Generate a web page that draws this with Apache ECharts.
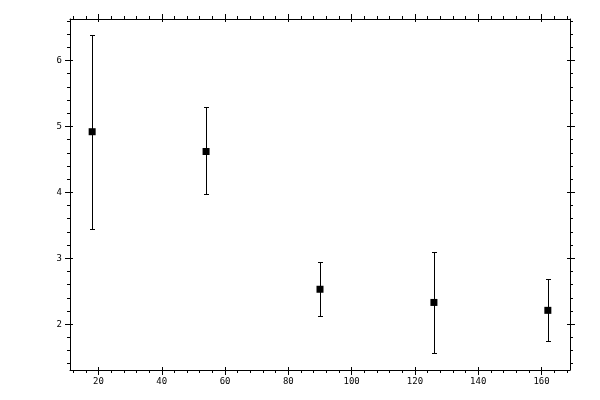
<!DOCTYPE html>
<html>
<head>
<meta charset="utf-8">
<script src="https://cdn.jsdelivr.net/npm/echarts@6/dist/echarts.min.js"></script>
<style>
  html, body { margin: 0; padding: 0; background: #fff; }
  #chart { width: 600px; height: 400px; }
</style>
</head>
<body>
<div id="chart"></div>
<script>
// data
var xValues = [18, 54, 90, 126, 162];
var yValues = [4.92, 4.62, 2.53, 2.33, 2.21];
var yLow = [3.45, 3.97, 2.12, 1.56, 1.75];
var yHigh = [6.39, 5.29, 2.94, 3.09, 2.68];

// tick values
var xTicks = [20, 40, 60, 80, 100, 120, 140, 160];
var xMinorTicks = [12, 16, 24, 28, 32, 36, 44, 48, 52, 56, 64, 68, 72, 76, 84, 88, 92, 96,
  104, 108, 112, 116, 124, 128, 132, 136, 144, 148, 152, 156, 164, 168];
var yTicks = [2, 3, 4, 5, 6];
var yMinorTicks = [1.4, 1.6, 1.8, 2.2, 2.4, 2.6, 2.8, 3.2, 3.4, 3.6, 3.8, 4.2, 4.4, 4.6, 4.8,
  5.2, 5.4, 5.6, 5.8, 6.2, 6.4, 6.6];

var xMin = 11, xMax = 169;
var yMin = 1.305, yMax = 6.63;
var font = 'DejaVu Sans Mono';

var points = xValues.map(function (x, i) { return [x, yValues[i]]; });
var bars = xValues.map(function (x, i) { return [x, yLow[i], yHigh[i]]; });

// kind: 'main' (line + outward majors + labels), 'minor' (outward short), 'in' (inward majors)
function axis(pos, kind, min, max, ticks, minor, labels, margin) {
  var vals = kind === 'minor' ? minor : ticks;
  return {
    type: 'value', position: pos, min: min, max: max,
    axisLine: { show: kind === 'main', onZero: false, lineStyle: { color: '#000', width: 1 } },
    axisTick: {
      show: true, inside: kind === 'in', customValues: vals,
      length: kind === 'main' ? 5 : 3, lineStyle: { color: '#000', width: 1 }
    },
    axisLabel: {
      show: kind === 'main' && labels, customValues: ticks, margin: margin,
      color: '#000', fontSize: 9, fontFamily: font
    },
    splitLine: { show: false }
  };
}

var xAxes = [], yAxes = [];
['bottom', 'top'].forEach(function (p) {
  ['main', 'minor', 'in'].forEach(function (k) {
    xAxes.push(axis(p, k, xMin, xMax, xTicks, xMinorTicks, p === 'bottom', 7));
  });
});
['left', 'right'].forEach(function (p) {
  ['main', 'minor', 'in'].forEach(function (k) {
    yAxes.push(axis(p, k, yMin, yMax, yTicks, yMinorTicks, p === 'left', 8));
  });
});

var chart = echarts.init(document.getElementById('chart'), null, { renderer: 'canvas' });
chart.setOption({
  animation: false,
  backgroundColor: '#fff',
  grid: { left: 70, right: 30, top: 19, bottom: 30 },
  xAxis: xAxes,
  yAxis: yAxes,
  series: [
    {
      type: 'custom',
      data: bars,
      renderItem: function (params, api) {
        var top = api.coord([api.value(0), api.value(2)]);
        var bot = api.coord([api.value(0), api.value(1)]);
        var x = Math.round(top[0]) + 0.5;
        var y1 = Math.round(top[1]) + 0.5;
        var y2 = Math.round(bot[1]) + 0.5;
        var w = 2.5;
        var st = { stroke: '#000', lineWidth: 1 };
        return {
          type: 'group',
          children: [
            { type: 'line', shape: { x1: x, y1: y1, x2: x, y2: y2 }, style: st },
            { type: 'line', shape: { x1: x - w, y1: y1, x2: x + w, y2: y1 }, style: st },
            { type: 'line', shape: { x1: x - w, y1: y2, x2: x + w, y2: y2 }, style: st }
          ]
        };
      },
      z: 2
    },
    {
      type: 'scatter',
      data: points,
      symbol: 'rect',
      symbolSize: 7,
      itemStyle: { color: '#000', opacity: 1 },
      emphasis: { disabled: true },
      z: 3
    }
  ]
});
</script>
</body>
</html>
